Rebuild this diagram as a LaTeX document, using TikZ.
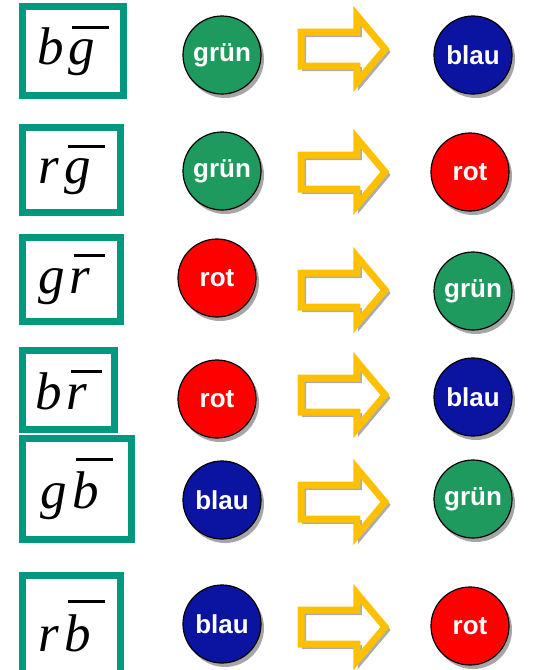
\documentclass[tikz,border=0pt]{standalone}
\usepackage{fontspec}
\setmainfont{Liberation Serif}
\newfontfamily\ballfont{Liberation Sans}
\usetikzlibrary{shapes.arrows,shadows}
\definecolor{tealbox}{HTML}{009980}
\definecolor{ballgreen}{HTML}{1F9A5E}
\definecolor{ballred}{HTML}{FF0000}
\definecolor{ballblue}{HTML}{0A14A0}
\definecolor{arrowgold}{HTML}{FFC000}
\newcommand\antibar[1]{\kern5pt\setbox0=\hbox{#1}\vbox{\offinterlineskip\moveright4pt\hbox{\vrule height2.8pt width\dimexpr\wd0+10pt\relax}\kern11pt\box0}}
\tikzset{labelbox/.style={draw=tealbox,line width=7pt,fill=white,inner sep=0pt,outer sep=0pt,
  font=\fontsize{53}{60}\selectfont\itshape},
  ball/.style={circle,draw=black,line width=1.2pt,minimum size=78pt,inner sep=0pt,text=white,
  font=\ballfont\bfseries\fontsize{26}{28}\selectfont,
  drop shadow={shadow xshift=3pt,shadow yshift=-4pt,fill=gray!70,opacity=1}},
  swaparrow/.style={single arrow,draw=arrowgold,line width=7pt,anchor=tail,outer sep=0pt,
  minimum height=84pt,inner xsep=0pt,inner ysep=13.5pt,single arrow head extend=16.5pt,
  single arrow tip angle=100,single arrow head indent=0pt,
  general shadow={draw=gray!65,line width=4pt,shadow xshift=3pt,shadow yshift=-3pt}}}
\begin{document}
\begin{tikzpicture}[x=1pt,y=-1pt]
\useasboundingbox (0,0) rectangle (543,670);
\clip (0,0) rectangle (543,670);
% b anti-g
\node[labelbox,minimum width=101pt,minimum height=89pt] (bg) at (73,51) {b\antibar{g}};
\node[ball,fill=ballgreen] (bgin) at (222,55) {grün};
\node[swaparrow] (bgarr) at (301,49) {};
\node[ball,fill=ballblue] (bgout) at (473,55) {blau};
% r anti-g
\node[labelbox,minimum width=98pt,minimum height=85pt] (rg) at (71.5,170) {r\antibar{g}};
\node[ball,fill=ballgreen] (rgin) at (222,171) {grün};
\node[swaparrow] (rgarr) at (301,172) {};
\node[ball,fill=ballred] (rgout) at (470,172) {rot};
% g anti-r
\node[labelbox,minimum width=98pt,minimum height=84pt] (gr) at (71.5,279.5) {g\antibar{r}};
\node[ball,fill=ballred] (grin) at (217,278) {rot};
\node[swaparrow] (grarr) at (301,290) {};
\node[ball,fill=ballgreen] (grout) at (473,291) {grün};
% b anti-r
\node[labelbox,minimum width=92pt,minimum height=79pt] (br) at (68.5,390) {b\antibar{r}};
\node[ball,fill=ballred] (brin) at (217,399) {rot};
\node[swaparrow] (brarr) at (301,395) {};
\node[ball,fill=ballblue] (brout) at (473,397) {blau};
% g anti-b
\node[labelbox,minimum width=109pt,minimum height=101pt] (gb) at (77,489) {g\antibar{b}};
\node[ball,fill=ballblue] (gbin) at (222,500) {blau};
\node[swaparrow] (gbarr) at (301,502) {};
\node[ball,fill=ballgreen] (gbout) at (473,499) {grün};
% r anti-b
\node[labelbox,minimum width=98pt,minimum height=101pt] (rb) at (71.5,626) {r\antibar{b}};
\node[ball,fill=ballblue] (rbin) at (222,624) {blau};
\node[swaparrow] (rbarr) at (301,627) {};
\node[ball,fill=ballred] (rbout) at (470,626) {rot};
\end{tikzpicture}
\end{document}
